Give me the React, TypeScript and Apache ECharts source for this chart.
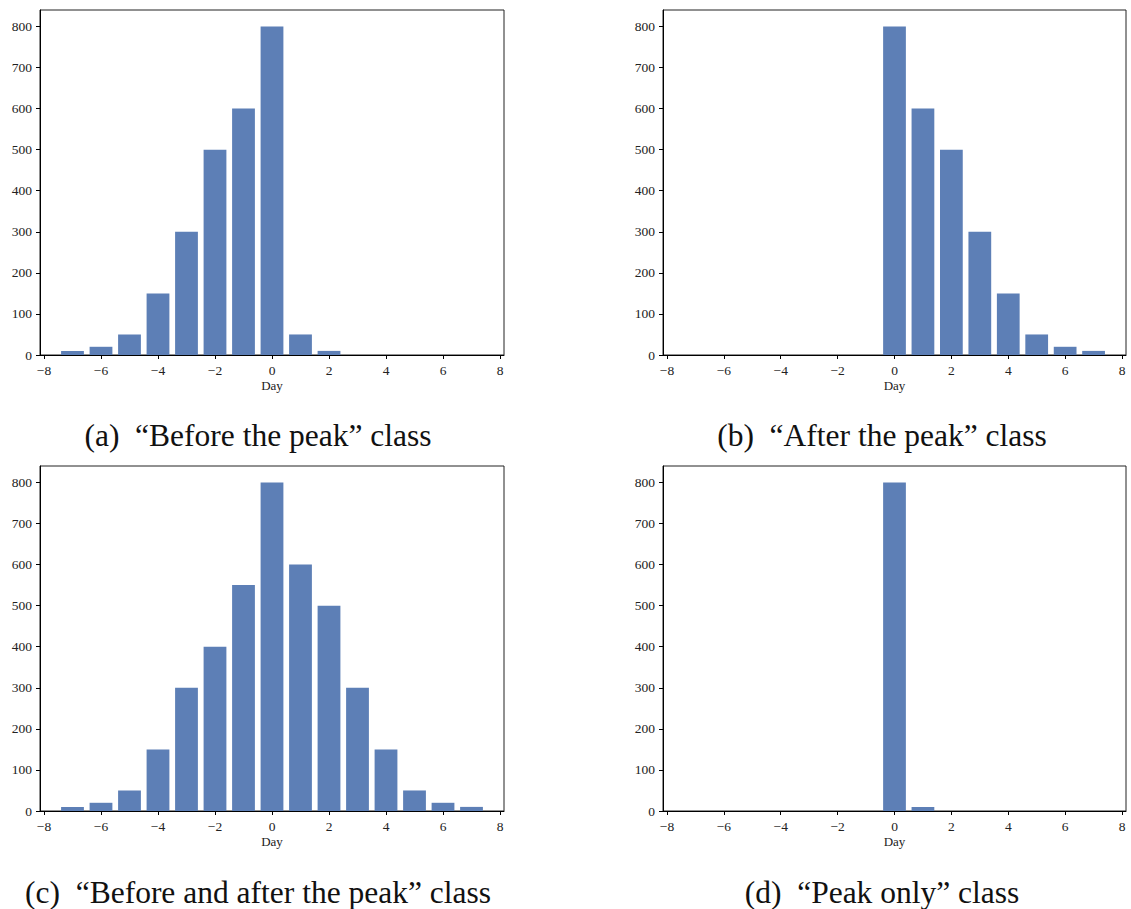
import React, { useEffect, useRef } from "react";
import * as echarts from "echarts";

// ---- data ----
const daysA = [-7, -6, -5, -4, -3, -2, -1, 0, 1, 2];
const countsA = [10, 20, 50, 150, 300, 500, 600, 800, 50, 10];

const daysB = [0, 1, 2, 3, 4, 5, 6, 7];
const countsB = [800, 600, 500, 300, 150, 50, 20, 10];

const daysC = [-7, -6, -5, -4, -3, -2, -1, 0, 1, 2, 3, 4, 5, 6, 7];
const countsC = [10, 20, 50, 150, 300, 400, 550, 800, 600, 500, 300, 150, 50, 20, 10];

const daysD = [0, 1];
const countsD = [800, 10];

const xTicks = [-8, -6, -4, -2, 0, 2, 4, 6, 8];
const yTicks = [0, 100, 200, 300, 400, 500, 600, 700, 800];

const captions = [
  "(a)  \u201CBefore the peak\u201D class",
  "(b)  \u201CAfter the peak\u201D class",
  "(c)  \u201CBefore and after the peak\u201D class",
  "(d)  \u201CPeak only\u201D class",
];

const X_MIN = -8.14;
const X_MAX = 8.14;
const Y_MIN = 0;
const Y_MAX = 840;
const BAR_COLOR = "#5d7fb6";
const SERIF = "'Liberation Serif', 'DejaVu Serif', serif";

const panels = [
  { days: daysA, counts: countsA, left: 40, top: 10, width: 464, height: 345 },
  { days: daysB, counts: countsB, left: 663, top: 10, width: 463, height: 345 },
  { days: daysC, counts: countsC, left: 40, top: 466, width: 464, height: 345 },
  { days: daysD, counts: countsD, left: 663, top: 466, width: 463, height: 345 },
];

const captionPos = [
  { x: 258, y: 435 },
  { x: 882, y: 435 },
  { x: 258, y: 892 },
  { x: 882, y: 892 },
];

export default function App() {
  const ref = useRef<HTMLDivElement>(null);

  useEffect(() => {
    if (!ref.current) return;
    const chart = echarts.init(ref.current, undefined, { renderer: "svg" });

    const grid = panels.map((p) => ({
      left: p.left,
      top: p.top,
      width: p.width,
      height: p.height,
      show: true,
      borderColor: "#222",
      borderWidth: 1,
      backgroundColor: "transparent",
    }));

    const xAxis = panels.map((p, i) => ({
      type: "value",
      gridIndex: i,
      min: X_MIN,
      max: X_MAX,
      name: "Day",
      nameLocation: "middle",
      nameGap: 24,
      nameTextStyle: { fontFamily: SERIF, fontSize: 13, color: "#222" },
      splitLine: { show: false },
      axisLine: { show: true, onZero: false, lineStyle: { color: "#000", width: 1 } },
      axisTick: {
        show: true,
        inside: false,
        length: 4,
        customValues: xTicks,
        lineStyle: { color: "#000", width: 1 },
      },
      axisLabel: {
        show: true,
        customValues: xTicks,
        margin: 8,
        fontFamily: SERIF,
        fontSize: 13.5,
        color: "#222",
        formatter: (v: number) => String(v).replace("-", "\u2212"),
      },
    }));

    const yAxis = panels.map((p, i) => ({
      type: "value",
      gridIndex: i,
      min: Y_MIN,
      max: Y_MAX,
      splitLine: { show: false },
      axisLine: { show: true, onZero: false, lineStyle: { color: "#000", width: 1 } },
      axisTick: {
        show: true,
        inside: false,
        length: 4,
        customValues: yTicks,
        lineStyle: { color: "#000", width: 1 },
      },
      axisLabel: {
        show: true,
        customValues: yTicks,
        margin: 8,
        fontFamily: SERIF,
        fontSize: 13.5,
        color: "#222",
      },
    }));

    const series = panels.map((p, i) => ({
      type: "bar",
      xAxisIndex: i,
      yAxisIndex: i,
      barWidth: (0.8 * p.width) / (X_MAX - X_MIN),
      itemStyle: { color: BAR_COLOR },
      data: p.days.map((d, k) => [d, p.counts[k]]),
    }));

    const graphic = captions.map((c, i) => ({
      type: "text",
      x: captionPos[i].x,
      y: captionPos[i].y,
      style: {
        text: c,
        fontFamily: SERIF,
        fontSize: 31.5,
        fill: "#111",
        textAlign: "center",
        textVerticalAlign: "middle",
      },
    }));

    chart.setOption({
      animation: false,
      backgroundColor: "#fff",
      grid,
      xAxis,
      yAxis,
      series,
      graphic,
    });

    return () => chart.dispose();
  }, []);

  return (
    <div
      ref={ref}
      style={{ position: "absolute", left: 0, top: 0, width: 1131, height: 909 }}
    />
  );
}
